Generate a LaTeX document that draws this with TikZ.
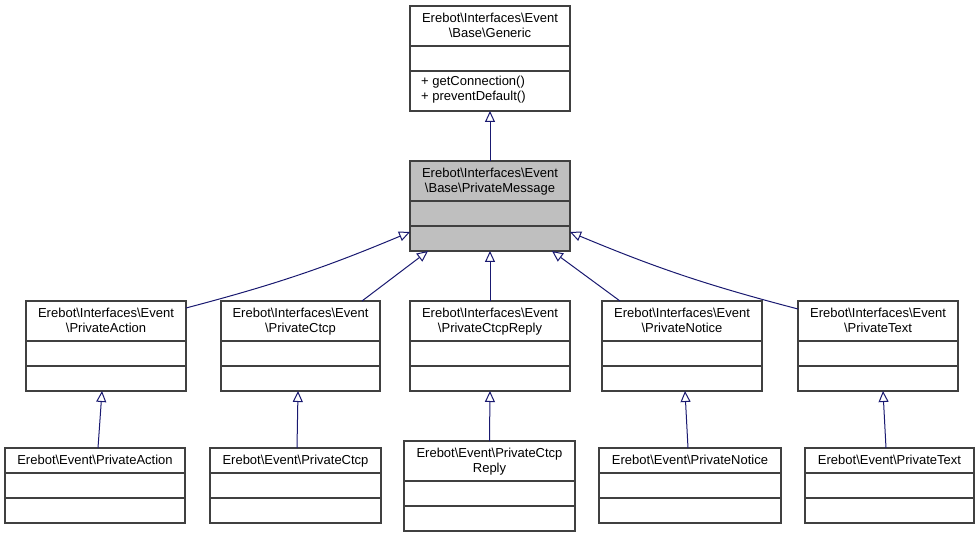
\documentclass[tikz,border=0pt]{standalone}
\usepackage{fontspec}
\setmainfont{Liberation Sans}
\usetikzlibrary{arrows.meta,calc}
\definecolor{edgeblue}{HTML}{191970}
\definecolor{pmgray}{HTML}{BFBFBF}
\tikzset{
  classbox/.style={draw=black!75, line width=1.1pt, inner sep=0pt, outer sep=0pt},
  sepline/.style={draw=black!75, line width=1.1pt},
  ctext/.style={align=center, inner sep=0pt, font=\fontsize{13}{15}\selectfont,
    execute at begin node={\vphantom{E\textbackslash}}, execute at end node={\vphantom{p\textbackslash}}},
  mtext/.style={align=left, inner sep=0pt, anchor=west, font=\fontsize{13}{15}\selectfont},
  inh/.style={draw=edgeblue, line width=1pt, -{Triangle[length=11pt,width=10pt,fill=white,line width=1pt]}},
}
% name, x1, x2, ytop, ysep1, ysep2, ybot, fill, header text
\newcommand\umlclassbox[9]{%
  \node[classbox, fill=#8, anchor=north west, minimum width={(#3-#2)*1pt}, minimum height={(#7-#4)*1pt}] (#1) at (#2,#4) {};
  \draw[sepline] (#2,#5) -- (#3,#5);
  \draw[sepline] (#2,#6) -- (#3,#6);
  \node[ctext] (#1-title) at ({(#2+#3)/2},{(#4+#5)/2+0.7}) {#9};
}
\begin{document}
\begin{tikzpicture}[x=1pt,y=-1pt]
\useasboundingbox (0,0) rectangle (980,537);
% top
\umlclassbox{gen}{410}{570}{6}{46}{71}{111}{white}{Erebot\textbackslash Interfaces\textbackslash Event\\\textbackslash Base\textbackslash Generic}
\node[mtext] (genm) at (421,90) {+ getConnection()\\+ preventDefault()};
\umlclassbox{pm}{410}{570}{161}{201}{226}{251}{pmgray}{Erebot\textbackslash Interfaces\textbackslash Event\\\textbackslash Base\textbackslash PrivateMessage}
% level 2
\umlclassbox{ipa}{26}{186}{301}{341}{366}{391}{white}{Erebot\textbackslash Interfaces\textbackslash Event\\\textbackslash PrivateAction}
\umlclassbox{ipc}{221}{380}{301}{341}{366}{391}{white}{Erebot\textbackslash Interfaces\textbackslash Event\\\textbackslash PrivateCtcp}
\umlclassbox{ipr}{410}{570}{301}{341}{366}{391}{white}{Erebot\textbackslash Interfaces\textbackslash Event\\\textbackslash PrivateCtcpReply}
\umlclassbox{ipn}{602}{762}{301}{341}{366}{391}{white}{Erebot\textbackslash Interfaces\textbackslash Event\\\textbackslash PrivateNotice}
\umlclassbox{ipt}{798}{958}{301}{341}{366}{391}{white}{Erebot\textbackslash Interfaces\textbackslash Event\\\textbackslash PrivateText}
% level 3
\umlclassbox{epa}{5}{185}{448}{473}{498}{523}{white}{Erebot\textbackslash Event\textbackslash PrivateAction}
\umlclassbox{epc}{210}{381}{448}{473}{498}{523}{white}{Erebot\textbackslash Event\textbackslash PrivateCtcp}
\umlclassbox{epr}{404}{575}{441}{481}{506}{531}{white}{Erebot\textbackslash Event\textbackslash PrivateCtcp\\Reply}
\umlclassbox{epn}{599}{781}{448}{473}{498}{523}{white}{Erebot\textbackslash Event\textbackslash PrivateNotice}
\umlclassbox{ept}{805}{974}{448}{473}{498}{523}{white}{Erebot\textbackslash Event\textbackslash PrivateText}
% edges
\draw[inh] (pm.north) -- (gen.south);
\draw[inh] ([yshift=-7pt]ipa.north east) to[bend right=4] ([yshift=-26pt]pm.west);
\draw[inh] ([xshift=-18pt]ipc.north east) -- ([xshift=18pt]pm.south west);
\draw[inh] (ipr.north) -- (pm.south);
\draw[inh] ([xshift=18pt]ipn.north west) -- ([xshift=-18pt]pm.south east);
\draw[inh] ([yshift=-8pt]ipt.north west) to[bend left=4] ([yshift=-26pt]pm.east);
\draw[inh] ([xshift=3pt]epa.north) -- ([xshift=-4pt]ipa.south);
\draw[inh] ([xshift=1.5pt]epc.north) -- ([xshift=-2.5pt]ipc.south);
\draw[inh] (epr.north) -- (ipr.south);
\draw[inh] ([xshift=-2pt]epn.north) -- ([xshift=3pt]ipn.south);
\draw[inh] ([xshift=-3.5pt]ept.north) -- ([xshift=5pt]ipt.south);
\end{tikzpicture}
\end{document}
